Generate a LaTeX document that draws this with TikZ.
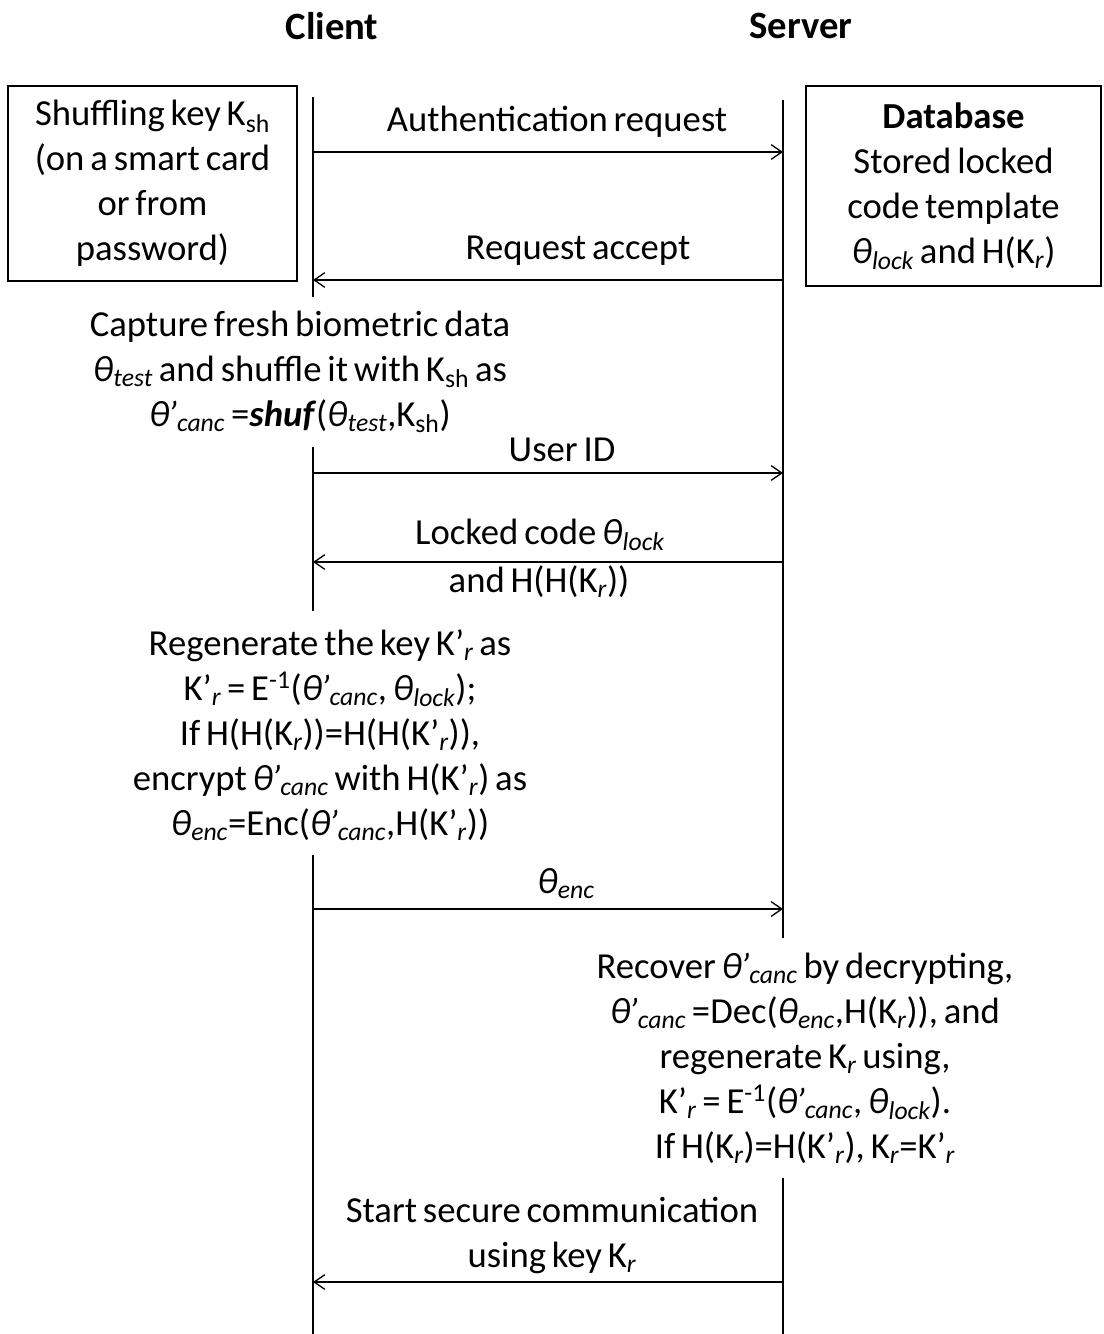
\documentclass[tikz,border=0pt]{standalone}
\usepackage{fontspec}
\setmainfont{Carlito}
\usetikzlibrary{arrows.meta}
\newcommand\dn[1]{\textsubscript{\itshape #1}}
\newcommand\thet{{\itshape θ}}
\newcommand\thp{{\itshape θ\kern-0.05em’}}
\newcommand\bodyfont{\fontsize{27.5}{33.75}\selectfont\spaceskip=0.16em plus 0.05em minus 0.03em\relax}
\begin{document}
\begin{tikzpicture}[x=0.75pt,y=-0.75pt,
  font=\bodyfont,
  life/.style={draw, line width=1pt},
  msg/.style={draw, line width=1pt, -{Straight Barb[length=8pt,width=11pt,line width=1pt]}},
  boxnode/.style={draw, line width=1.1pt, align=center, inner sep=0pt},
  txt/.style={align=center, inner sep=0pt},
  title/.style={font=\fontsize{29}{32}\selectfont\bfseries, inner sep=0pt}]
\useasboundingbox (0,0) rectangle (1103,1334);

% titles
\node[title] (client) at (332,26) {Client};
\node[title] (server) at (801,26) {Server};

% boxes
\node[boxnode, minimum width=216.75pt, minimum height=146.25pt] (kbox) at (152.5,183.5)
  {Shuffling key K\textsubscript{sh}\\(on a smart card\\or from\\password)};
\node[boxnode, minimum width=221.25pt, minimum height=150pt] (dbox) at (953.5,186)
  {\textbf{Database}\\Stored locked\\code template\\\thet\dn{lock} and H(K\dn{r})};

% lifeline coordinates
\coordinate (c0) at (313,97);
\coordinate (c1) at (313,297);
\coordinate (c2) at (313,447);
\coordinate (c3) at (313,611);
\coordinate (c4) at (313,855);
\coordinate (c5) at (313,1334);
\coordinate (s0) at (783,100);
\coordinate (s1) at (783,938);
\coordinate (s2) at (783,1178);
\coordinate (s3) at (783,1334);
\draw[life] (c0) -- (c1);
\draw[life] (c2) -- (c3);
\draw[life] (c4) -- (c5);
\draw[life] (s0) -- (s1);
\draw[life] (s2) -- (s3);

% message end points
\coordinate (m1c) at (313,152);  \coordinate (m1s) at (783,152);
\coordinate (m2c) at (313,280);  \coordinate (m2s) at (783,280);
\coordinate (m3c) at (313,473);  \coordinate (m3s) at (783,473);
\coordinate (m4c) at (313,562);  \coordinate (m4s) at (783,562);
\coordinate (m5c) at (313,909);  \coordinate (m5s) at (783,909);
\coordinate (m6c) at (313,1282); \coordinate (m6s) at (783,1282);

\draw[msg] (m1c) -- (m1s);
\draw[msg] (m2s) -- (m2c);
\draw[msg] (m3c) -- (m3s);
\draw[msg] (m4s) -- (m4c);
\draw[msg] (m5c) -- (m5s);
\draw[msg] (m6s) -- (m6c);

% message labels
\node[txt] (l1) at (557,122) {Authentication request};
\node[txt] (l2) at (578,251) {Request accept};
\node[txt] (l3) at (562,450) {User ID};
\node[txt] (l4a) at (540,535) {Locked code \thet\dn{lock}};
\node[txt] (l4b) at (539,582) {and H(H(K\dn{r}))};
\node[txt] (l5) at (566,884) {\thet\dn{enc}};
\node[txt] (l6) at (552,1235) {Start secure communication\\using key K\dn{r}};

% processing texts
\node[txt] (p1) at (300,372)
  {Capture fresh biometric data\\
   \thet\dn{test} and shuffle it with K\textsubscript{sh} as\\
   \thp\dn{canc} =\textbf{\textit{shuf}}(\thet\dn{test},K\textsubscript{sh})};
\node[txt] (p2) at (330,735)
  {Regenerate the key K’\dn{r} as\\
   K’\dn{r} = E\textsuperscript{-1}(\thp\dn{canc}, \thet\dn{lock});\\
   If H(H(K\dn{r}))=H(H(K’\dn{r})),\\
   encrypt \thp\dn{canc} with H(K’\dn{r}) as\\
   \thet\dn{enc}=Enc(\thp\dn{canc},H(K’\dn{r}))};
\node[txt] (p3) at (805,1058)
  {Recover \thp\dn{canc} by decrypting,\\
   \thp\dn{canc} =Dec(\thet\dn{enc},H(K\dn{r})), and\\
   regenerate K\dn{r} using,\\
   K’\dn{r} = E\textsuperscript{-1}(\thp\dn{canc}, \thet\dn{lock}).\\
   If H(K\dn{r})=H(K’\dn{r}), K\dn{r}=K’\dn{r}};
\end{tikzpicture}
\end{document}
